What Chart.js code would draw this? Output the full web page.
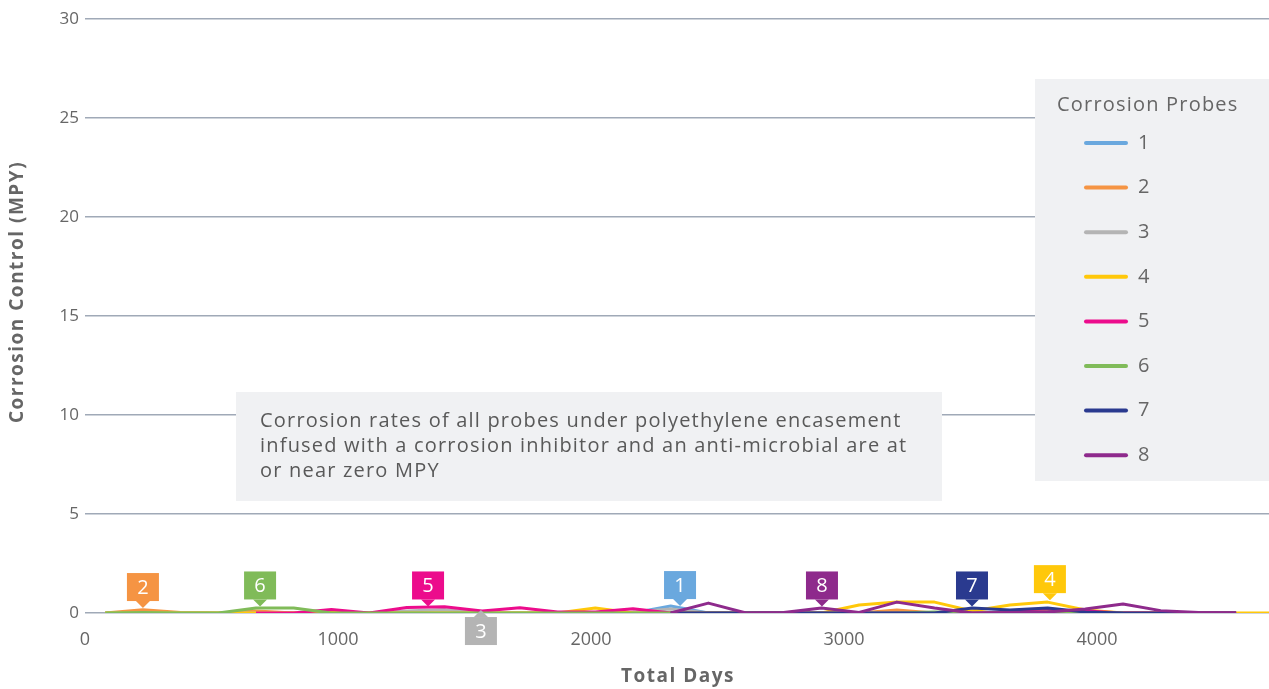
<!DOCTYPE html>
<html>
<head>
<meta charset="utf-8">
<script src="https://cdn.jsdelivr.net/npm/chart.js@4.4.1/dist/chart.umd.min.js"></script>
<style>
    html, body { margin: 0; padding: 0; background: #fff; }
    #wrap { position: relative; width: 1269px; height: 689px; }
</style>
</head>
<body>
<div id="wrap"><canvas id="chart"></canvas></div>
<script>
// Reading days (x) shared by all probes
const days = [80, 229, 378, 527, 676, 825, 974, 1123, 1272, 1421, 1570, 1719, 1868, 2017, 2166, 2315,
              2464, 2613, 2762, 2911, 3060, 3209, 3358, 3507, 3656, 3805, 3954, 4103, 4252, 4401, 4550, 4699];

const probeNames = ['1', '2', '3', '4', '5', '6', '7', '8'];
const probeColors = ['#6aa8de', '#f59443', '#b4b4b4', '#ffc80a', '#ec0c8c', '#80bb59', '#2a3a8f', '#8e2a8c'];

// Corrosion rate (MPY) per probe, null = not installed
const probe1 = [null, null, null, null, null, null, null, null, null, null, null, null, null, null, 0, 0.35,
                0, 0, 0, 0, 0, 0, 0, 0, 0, 0, 0, 0, 0, 0, 0, null];
const probe2 = [0, 0.17, 0.02, 0, 0.1, 0, 0, 0, 0, 0, 0, 0, 0, 0, 0, 0,
                0, 0, 0, 0, 0, 0.15, 0, 0, 0, 0.08, 0, 0, 0.03, 0, 0, null];
const probe3 = [0, 0, 0, 0, 0, 0, 0, 0, 0.1, 0.18, 0, 0, 0, 0, 0.05, 0.2,
                0, 0, 0, 0, 0, 0, 0, 0, 0, 0, 0, 0, 0, 0, 0, null];
const probe4 = [0, 0, 0, 0, 0, 0, 0.02, 0, 0, 0, 0, 0, 0, 0.25, 0, 0,
                0, 0, 0, 0, 0.4, 0.55, 0.55, 0.1, 0.4, 0.55, 0.15, 0, 0, 0, 0, 0];
const probe5 = [null, null, null, null, 0, 0, 0.18, 0, 0.28, 0.32, 0.1, 0.27, 0.05, 0.05, 0.22, 0,
                0, 0, 0, 0, 0, 0, 0, 0, 0.05, 0.15, 0.1, 0, 0, 0, 0, null];
const probe6 = [0, 0.03, 0, 0, 0.25, 0.25, 0, 0, 0, 0, 0, 0, 0, 0, 0, 0,
                0, 0, 0, 0, 0, 0, 0.05, 0, 0, 0.05, 0, 0, null, null, null, null];
const probe7 = [null, null, null, null, null, null, null, null, null, null, null, null, null, null, null, 0,
                0, 0, 0, 0, 0, 0, 0, 0.25, 0.15, 0.25, 0.05, 0, 0, 0, 0, null];
const probe8 = [null, null, null, null, null, null, null, null, null, null, null, null, null, null, null, 0,
                0.5, 0, 0.02, 0.25, 0.03, 0.55, 0.25, 0, 0.03, 0.05, 0.2, 0.45, 0.12, 0.02, 0, null];
const probeSeries = [probe1, probe2, probe3, probe4, probe5, probe6, probe7, probe8];

// Axes
const yMin = 0, yMax = 30, yStep = 5;
const xMin = 0, xMax = 4680;
const xTicks = [0, 1000, 2000, 3000, 4000];
const xTitle = 'Total Days';
const yTitle = 'Corrosion Control (MPY)';

// Number tags pointing at the lines
const calloutLabels = ['2', '6', '5', '3', '1', '8', '7', '4'];
const calloutDays   = [229, 692, 1356, 1565, 2352, 2913, 3506, 3814];
const calloutValues = [0.25, 0.33, 0.33, 0.15, 0.35, 0.33, 0.33, 0.65];
const calloutBelow  = [false, false, false, true, false, false, false, false];
const calloutSeries = [1, 5, 4, 2, 0, 7, 6, 3];

const noteLines = [
    'Corrosion rates of all probes under polyethylene encasement',
    'infused with a corrosion inhibitor and an anti-microbial are at',
    'or near zero MPY'
];
const legendTitle = 'Corrosion Probes';

const FONT = "'Open Sans', 'DejaVu Sans', sans-serif";
const TEXT = '#666666';

/**
 * Note box, legend box, axis titles and number tags
 */
const overlayPlugin = {
    id: 'overlays',
    beforeDatasetsDraw(chart) {
        const ctx = chart.ctx;
        ctx.save();
        ctx.letterSpacing = '1.2px';

        // note box
        ctx.fillStyle = '#f0f1f3';
        ctx.fillRect(236, 392, 706, 109);
        ctx.fillStyle = '#595959';
        ctx.font = '20px ' + FONT;
        ctx.textBaseline = 'middle';
        ctx.textAlign = 'left';
        noteLines.forEach((line, i) => ctx.fillText(line, 260, 421 + i * 25));

        // legend box
        ctx.fillStyle = '#f0f1f3';
        ctx.fillRect(1035, 79, chart.width - 1035, 402);
        ctx.fillStyle = TEXT;
        ctx.fillText(legendTitle, 1057, 105);
        probeNames.forEach((name, i) => {
            const y = 143 + i * 44.6;
            ctx.strokeStyle = probeColors[i];
            ctx.lineWidth = 4;
            ctx.lineCap = 'round';
            ctx.beginPath();
            ctx.moveTo(1086, y);
            ctx.lineTo(1126, y);
            ctx.stroke();
            ctx.fillStyle = TEXT;
            ctx.fillText(name, 1138, y);
        });

        // axis titles
        ctx.font = 'bold 19px ' + FONT;
        ctx.letterSpacing = '1.5px';
        ctx.textAlign = 'center';
        ctx.fillText(xTitle, (chart.chartArea.left + chart.chartArea.right) / 2 + 1, 677);
        ctx.translate(18, 292);
        ctx.rotate(-Math.PI / 2);
        ctx.fillText(yTitle, 0, 0);
        ctx.restore();
    },
    afterDatasetsDraw(chart) {
        const ctx = chart.ctx;
        const xs = chart.scales.x, ys = chart.scales.y;
        ctx.save();
        ctx.font = '20px ' + FONT;
        ctx.textAlign = 'center';
        ctx.textBaseline = 'middle';
        calloutLabels.forEach((label, i) => {
            const px = xs.getPixelForValue(calloutDays[i]);
            const py = ys.getPixelForValue(calloutValues[i]);
            const dir = calloutBelow[i] ? 1 : -1;
            const base = py + dir * 7;
            const far = base + dir * 28;
            ctx.fillStyle = probeColors[calloutSeries[i]];
            ctx.beginPath();
            ctx.moveTo(px, py);
            ctx.lineTo(px - 7, base);
            ctx.lineTo(px + 7, base);
            ctx.closePath();
            ctx.fill();
            ctx.fillRect(px - 16, Math.min(base, far), 32, 28);
            ctx.fillStyle = '#ffffff';
            ctx.fillText(label, px, (base + far) / 2 + 1);
        });
        ctx.restore();
    }
};

document.addEventListener('DOMContentLoaded', function() {
    const ctx = document.getElementById('chart');

    const datasets = probeSeries.map((values, i) => ({
        label: probeNames[i],
        data: values.map((v, j) => ({ x: days[j], y: v })),
        borderColor: probeColors[i],
        backgroundColor: probeColors[i],
        borderWidth: 3,
        pointRadius: 0,
        tension: 0,
        spanGaps: false,
        borderJoinStyle: 'round',
        order: probeNames.length - 1 - i
    }));

    new Chart(ctx, {
        type: 'line',
        data: { datasets: datasets },
        options: {
            responsive: true,
            maintainAspectRatio: false,
            animation: false,
            layout: { padding: { top: 19, right: 0, left: 0, bottom: 0 } },
            plugins: {
                legend: { display: false },
                tooltip: { enabled: false }
            },
            scales: {
                x: {
                    type: 'linear',
                    min: xMin,
                    max: xMax,
                    grid: { display: false },
                    border: { display: false },
                    afterBuildTicks: s => { s.ticks = xTicks.map(v => ({ value: v })); },
                    ticks: {
                        color: TEXT,
                        padding: 8,
                        font: { family: FONT, size: 18 },
                        maxRotation: 0,
                        autoSkip: false,
                        callback: v => String(v)
                    },
                    afterFit: s => { s.height = 76; s.paddingRight = 0; }
                },
                y: {
                    min: yMin,
                    max: yMax,
                    grid: { color: '#a0a9b7', lineWidth: 1.5, drawTicks: false },
                    border: { display: false },
                    ticks: {
                        stepSize: yStep,
                        color: TEXT,
                        padding: 6,
                        font: { family: FONT, size: 17 }
                    },
                    afterFit: s => { s.width = 85; }
                }
            }
        },
        plugins: [overlayPlugin]
    });
});
</script>
</body>
</html>
